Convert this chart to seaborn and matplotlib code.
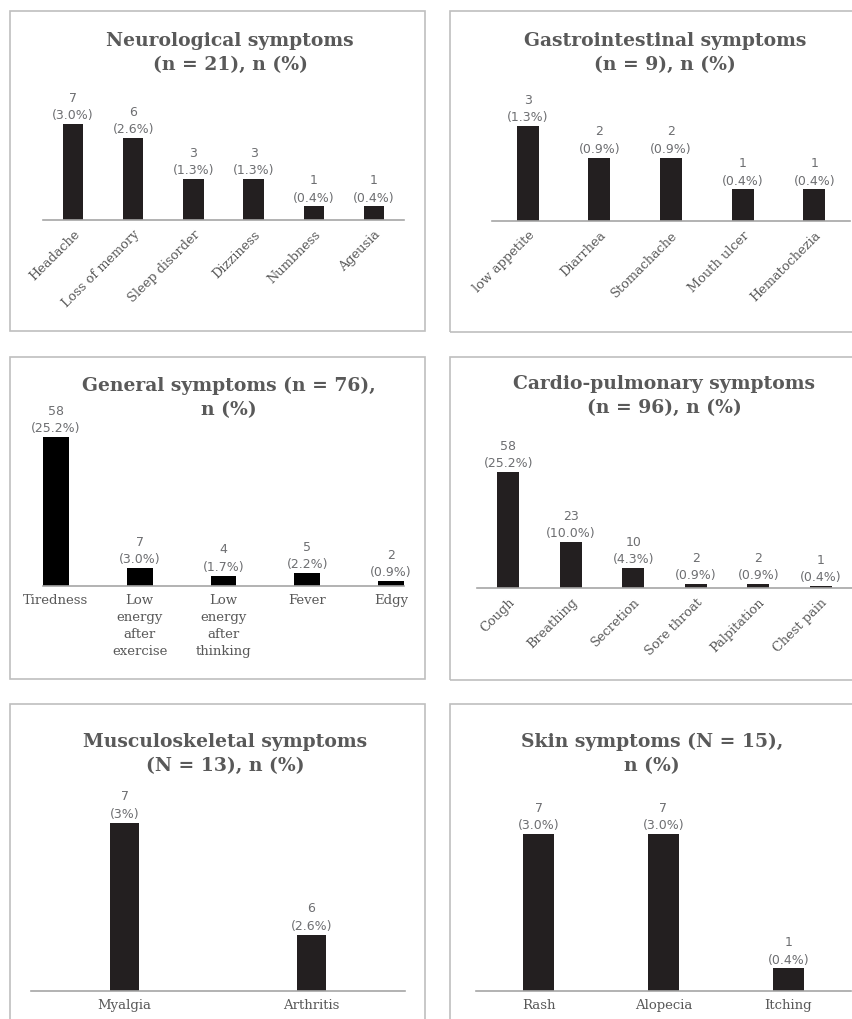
import matplotlib
matplotlib.use("Agg")
import matplotlib.pyplot as plt
from matplotlib.patches import Rectangle
import seaborn as sns
import numpy as np

sns.set_theme(style="white")
plt.rcParams['font.family'] = ['DejaVu Serif']

W, H = 852, 1020

# ---------------- data ----------------
neuro_cats = ["Headache", "Loss of memory", "Sleep disorder", "Dizziness", "Numbness", "Ageusia"]
neuro_n = [7, 6, 3, 3, 1, 1]
neuro_pct = ["3.0", "2.6", "1.3", "1.3", "0.4", "0.4"]

gi_cats = ["low appetite", "Diarrhea", "Stomachache", "Mouth ulcer", "Hematochezia"]
gi_n = [3, 2, 2, 1, 1]
gi_pct = ["1.3", "0.9", "0.9", "0.4", "0.4"]

gen_cats = ["Tiredness", "Low\nenergy\nafter\nexercise", "Low\nenergy\nafter\nthinking", "Fever", "Edgy"]
gen_n = [58, 7, 4, 5, 2]
gen_pct = ["25.2", "3.0", "1.7", "2.2", "0.9"]

cardio_cats = ["Cough", "Breathing", "Secretion", "Sore throat", "Palpitation", "Chest pain"]
cardio_n = [58, 23, 10, 2, 2, 1]
cardio_pct = ["25.2", "10.0", "4.3", "0.9", "0.9", "0.4"]

musc_cats = ["Myalgia", "Arthritis"]
musc_n = [7, 6]
musc_pct = ["3", "2.6"]

skin_cats = ["Rash", "Alopecia", "Itching"]
skin_n = [7, 7, 1]
skin_pct = ["3.0", "3.0", "0.4"]

titles = [
    "Neurological symptoms\n(n = 21), n (%)",
    "Gastrointestinal symptoms\n(n = 9), n (%)",
    "General symptoms (n = 76),\nn (%)",
    "Cardio-pulmonary symptoms\n(n = 96), n (%)",
    "Musculoskeletal symptoms\n(N = 13), n (%)",
    "Skin symptoms (N = 15),\nn (%)",
]

# ---------------- style ----------------
BAR = "#231f20"
TITLE_C = "#595959"
LABEL_C = "#595959"
ANN_C = "#6d6e71"
AXIS_C = "#a6a6a6"
BOX_C = "#bfbfbf"

fig = plt.figure(figsize=(W / 100, H / 100), dpi=100)


def fx(x):
    return x / W


def fy(y):
    return 1 - y / H


def box(x0, y0, x1, y1):
    fig.patches.append(Rectangle((fx(x0), fy(y1)), fx(x1) - fx(x0), fy(y0) - fy(y1),
                                 transform=fig.transFigure, fill=False,
                                 edgecolor=BOX_C, linewidth=1.2))


def make_ax(x0, x1, ytop, ybase):
    return fig.add_axes([fx(x0), fy(ybase), fx(x1) - fx(x0), fy(ytop) - fy(ybase)])


def panel(ax, cats, n, pct, ylim, width, color=BAR, rot=False, xlim=None, ticks=False):
    sns.barplot(x=list(range(len(cats))), y=n, ax=ax, color=color, width=width,
                saturation=1, edgecolor="none", linewidth=0)
    ax.set_ylim(*ylim)
    if xlim is not None:
        ax.set_xlim(*xlim)
    else:
        ax.set_xlim(-0.5, len(cats) - 0.5)
    for s in ["top", "left", "right"]:
        ax.spines[s].set_visible(False)
    ax.spines["bottom"].set_color(AXIS_C)
    ax.spines["bottom"].set_linewidth(1.2)
    ax.set_yticks([])
    ax.set_xlabel("")
    ax.set_ylabel("")
    ax.patch.set_alpha(0)
    ax.set_xticks(range(len(cats)))
    if rot:
        ax.set_xticklabels(cats, rotation=45, ha="right", va="top",
                           rotation_mode="anchor", fontsize=9.3, color=LABEL_C)
    else:
        ax.set_xticklabels(cats, fontsize=9.5, color=LABEL_C, linespacing=1.4)
    ax.tick_params(axis="x", length=0, pad=5)
    if ticks:
        ax.set_xticks(np.arange(-0.5, len(cats), 1.0), minor=True)
        ax.tick_params(axis="x", which="minor", length=6, color=AXIS_C, width=1.2, direction="out")
    for i, (v, p) in enumerate(zip(n, pct)):
        ax.annotate(f"{v}\n({p}%)", xy=(i, v), xytext=(0, 2), textcoords="offset points",
                    ha="center", va="bottom", fontsize=9, color=ANN_C,
                    family="DejaVu Sans", linespacing=1.45, annotation_clip=False)


def title(x, y, t):
    fig.text(fx(x), fy(y), t, ha="center", va="top", fontsize=13.5, fontweight="bold",
             color=TITLE_C, linespacing=1.4, family="DejaVu Serif")


# boxes
box(10, 12, 425, 332)
box(450, 12, 870, 333)
box(10, 358, 425, 680)
box(450, 358, 870, 681)
box(10, 705, 425, 1040)
box(450, 705, 870, 1040)

# Neurological
ax1 = make_ax(43, 404, 221 - 13.7 * 10, 221)
panel(ax1, neuro_cats, neuro_n, neuro_pct, (0, 10), 0.34, rot=True)
title(230, 32, titles[0])

# Gastrointestinal
ax2 = make_ax(492, 850, 222 - 31.7 * 4, 222)
panel(ax2, gi_cats, gi_n, gi_pct, (0, 4), 0.31, rot=True)
title(665, 32, titles[1])

# General
ax3 = make_ax(43, 404, 587 - 2.57 * 70, 587)
panel(ax3, gen_cats, gen_n, gen_pct, (0, 70), 0.31, color="#000000", xlim=(-0.155, 4.155))
title(229, 377, titles[2])

# Cardio-pulmonary
ax4 = make_ax(477, 852, 589 - 2.0 * 70, 589)
panel(ax4, cardio_cats, cardio_n, cardio_pct, (0, 70), 0.35, rot=True, ticks=True)
title(664, 375, titles[3])

# Musculoskeletal (axis does not start at zero)
ax5 = make_ax(31, 405, 991.7 - 112 * 2, 991.7)
panel(ax5, musc_cats, musc_n, musc_pct, (5.5, 7.5), 0.16)
title(225, 733, titles[4])

# Skin
ax6 = make_ax(476, 851, 991.7 - 22.4 * 8, 991.7)
panel(ax6, skin_cats, skin_n, skin_pct, (0, 8), 0.245)
title(652, 733, titles[5])

fig.savefig("out.png", dpi=100, facecolor="white")
